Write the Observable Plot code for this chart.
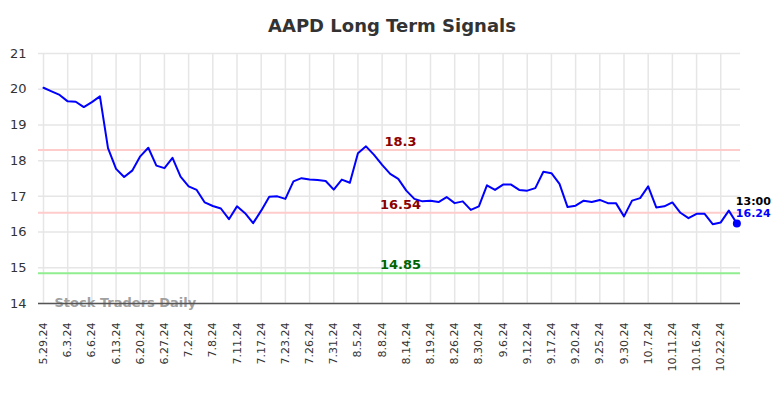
<!DOCTYPE html>
<html><head><meta charset="utf-8">
<script src="https://cdn.jsdelivr.net/npm/d3@7"></script>
<script src="https://cdn.jsdelivr.net/npm/@observablehq/plot@0.6"></script>
<style>
html,body{margin:0;padding:0;background:#fff;font-family:"DejaVu Sans",sans-serif;}
#title{height:40px;line-height:52px;overflow:visible;text-align:center;font-size:18px;font-weight:bold;color:#333;white-space:nowrap;}
#chart svg{display:block;}
</style></head><body>
<div id="title">AAPD Long Term Signals</div>
<div id="chart"></div>
<script>
const tickLabels = ["5.29.24","6.3.24","6.6.24","6.13.24","6.20.24","6.27.24","7.2.24","7.8.24","7.11.24","7.17.24","7.23.24","7.26.24","7.31.24","8.5.24","8.8.24","8.14.24","8.19.24","8.26.24","8.30.24","9.6.24","9.12.24","9.17.24","9.20.24","9.25.24","9.30.24","10.7.24","10.11.24","10.16.24","10.22.24"];
const values = [20.04,19.94,19.84,19.66,19.65,19.50,19.64,19.80,18.35,17.77,
  17.54,17.72,18.12,18.36,17.86,17.79,18.08,17.55,17.28,17.18,
  16.83,16.73,16.66,16.36,16.72,16.53,16.25,16.60,16.99,17.00,
  16.93,17.42,17.51,17.47,17.46,17.43,17.19,17.47,17.38,18.21,
  18.40,18.16,17.88,17.63,17.49,17.16,16.93,16.86,16.88,16.84,
  16.98,16.81,16.86,16.62,16.72,17.31,17.18,17.33,17.33,17.18,
  17.16,17.23,17.69,17.65,17.35,16.70,16.74,16.88,16.84,16.90,
  16.81,16.81,16.44,16.88,16.95,17.28,16.69,16.72,16.83,16.54,
  16.39,16.51,16.51,16.22,16.27,16.60,16.24];
const levels = [18.3, 16.54, 14.85];
const levelLabels = ["18.3", "16.54", "14.85"];
const levelLineColors = ["#ffcccc", "#ffcccc", "#90ee90"];
const levelTextColors = ["#8b0000", "#8b0000", "#006400"];
const yTicks = [14,15,16,17,18,19,20,21];
const lastTime = "13:00";
const watermark = "Stock Traders Daily";

const data = values.map((v, i) => ({i, v}));
const tickIdx = tickLabels.map((_, k) => k * 3);
const levelData = levels.map((v, k) => ({v, label: levelLabels[k], line: levelLineColors[k], txt: levelTextColors[k]}));
const last = data.slice(-1);

const plot = Plot.plot({
  width: 784, height: 358,
  marginTop: 13, marginBottom: 95, marginLeft: 38, marginRight: 44,
  style: {fontFamily: "DejaVu Sans, sans-serif", background: "#fff", color: "#333"},
  x: {domain: [-0.62, 86.45], axis: null},
  y: {domain: [14, 21], axis: null},
  marks: [
    Plot.gridY(yTicks, {stroke: "#e6e6e6", strokeOpacity: 1, strokeWidth: 1.5}),
    Plot.gridX(tickIdx, {stroke: "#e6e6e6", strokeOpacity: 1, strokeWidth: 1.5}),
    Plot.ruleY(levelData, {y: "v", stroke: d => d.line, strokeWidth: 2}),
    Plot.text(levelData, {y: "v", text: "label", fill: d => d.txt, frameAnchor: "middle", dx: 11, dy: -8, fontWeight: "bold", fontSize: 13, textAnchor: "middle"}),
    Plot.text([watermark], {frameAnchor: "bottom-left", text: d => d, dx: 16, dy: -1, lineAnchor: "middle", textAnchor: "start", fill: "#a0a0a0", fontWeight: "bold", fontSize: 13}),
    Plot.ruleY([14], {stroke: "#555", strokeWidth: 1.5}),
    Plot.axisY(yTicks, {label: null, tickSize: 0, tickPadding: 12, fontSize: 13, fill: "#333"}),
    Plot.axisX(tickIdx, {label: null, tickFormat: i => tickLabels[i / 3], tickRotate: -90, tickSize: 0, tickPadding: 19, fontSize: 11, fill: "#333"}),
    Plot.line(data, {x: "i", y: "v", stroke: "#0000ff", strokeWidth: 2}),
    Plot.dot(last, {x: "i", y: "v", r: 4, fill: "#0000ff"}),
    Plot.text(last, {x: "i", y: "v", text: () => lastTime, dx: -1, dy: -22, textAnchor: "start", fontWeight: "bold", fontSize: 11, fill: "#000"}),
    Plot.text(last, {x: "i", y: "v", text: d => d.v.toFixed(2), dx: -1, dy: -10, textAnchor: "start", fontWeight: "bold", fontSize: 11, fill: "#0000ff"})
  ]
});
document.getElementById("chart").appendChild(plot);
</script>
</body></html>
